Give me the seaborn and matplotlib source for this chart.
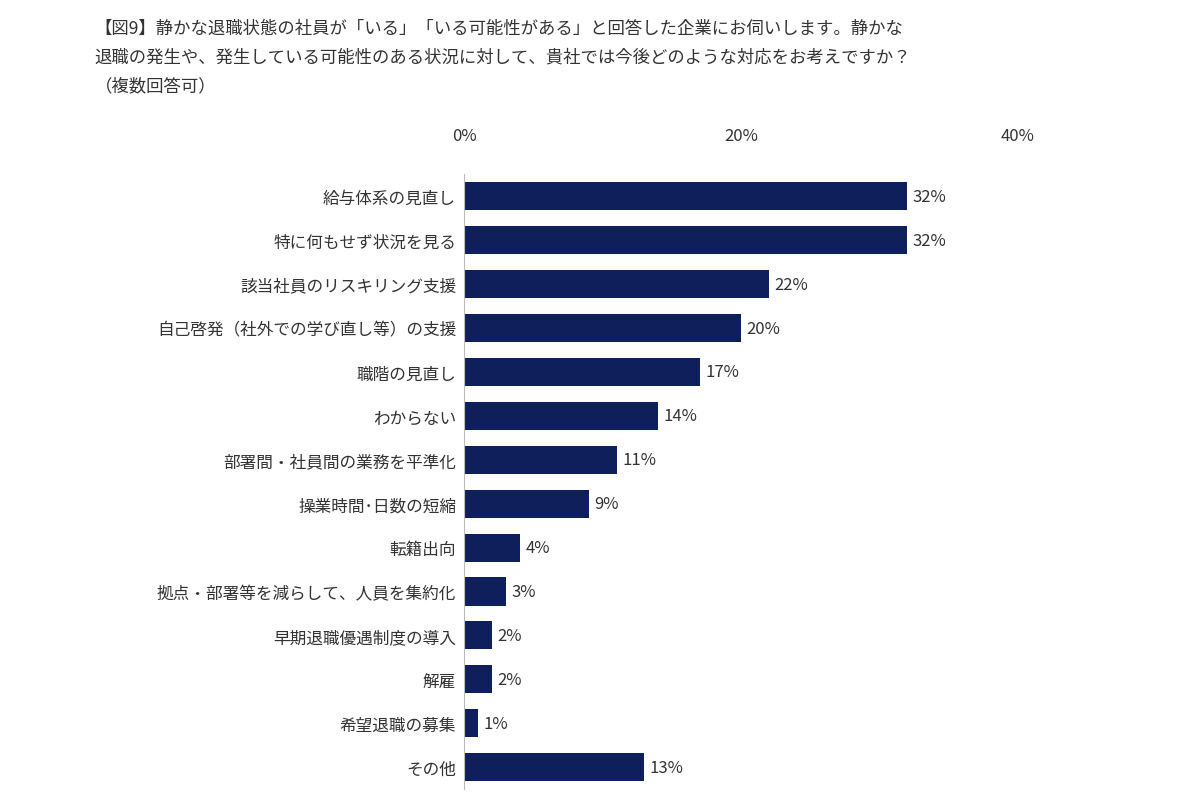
import matplotlib.pyplot as plt
import seaborn as sns
import pandas as pd

plt.rcParams["font.family"] = "Noto Sans CJK JP"

CATEGORIES = [
    "給与体系の見直し",
    "特に何もせず状況を見る",
    "該当社員のリスキリング支援",
    "自己啓発（社外での学び直し等）の支援",
    "職階の見直し",
    "わからない",
    "部署間・社員間の業務を平準化",
    "操業時間･日数の短縮",
    "転籍出向",
    "拠点・部署等を減らして、人員を集約化",
    "早期退職優遇制度の導入",
    "解雇",
    "希望退職の募集",
    "その他",
]
VALUES = [32, 32, 22, 20, 17, 14, 11, 9, 4, 3, 2, 2, 1, 13]
TICKS = [0, 20, 40]

TITLE = ("【図9】静かな退職状態の社員が「いる」「いる可能性がある」と回答した企業にお伺いします。静かな\n"
         "退職の発生や、発生している可能性のある状況に対して、貴社では今後どのような対応をお考えですか？\n"
         "（複数回答可）")

df = pd.DataFrame({"cat": CATEGORIES, "val": VALUES})

fig = plt.figure(figsize=(12, 8.12), dpi=100)
ax = fig.add_axes([0.387, 0.027, 0.461, 0.757])
sns.barplot(data=df, x="val", y="cat", color="#0e1f5b", saturation=1, width=0.64, ax=ax)
ax.set_xlim(0, 40)
ax.set_xticks(TICKS)
ax.set_xticklabels([f"{t}%" for t in TICKS])
ax.xaxis.tick_top()
ax.tick_params(axis="x", length=0, labelsize=12, colors="#333333", pad=22)
ax.tick_params(axis="y", length=0, labelsize=12, colors="#333333", pad=6)
ax.set_xlabel("")
ax.set_ylabel("")
for s in ["top", "right", "bottom"]:
    ax.spines[s].set_visible(False)
ax.spines["left"].set_color("#bbbbbb")
for i, v in enumerate(VALUES):
    ax.text(v + 0.4, i, f"{v}%", va="center", ha="left", fontsize=12, color="#333333")

fig.text(0.079, 0.975, TITLE, ha="left", va="top", fontsize=12.5, color="#333333", linespacing=1.75)
fig.savefig("out.png", dpi=100)
